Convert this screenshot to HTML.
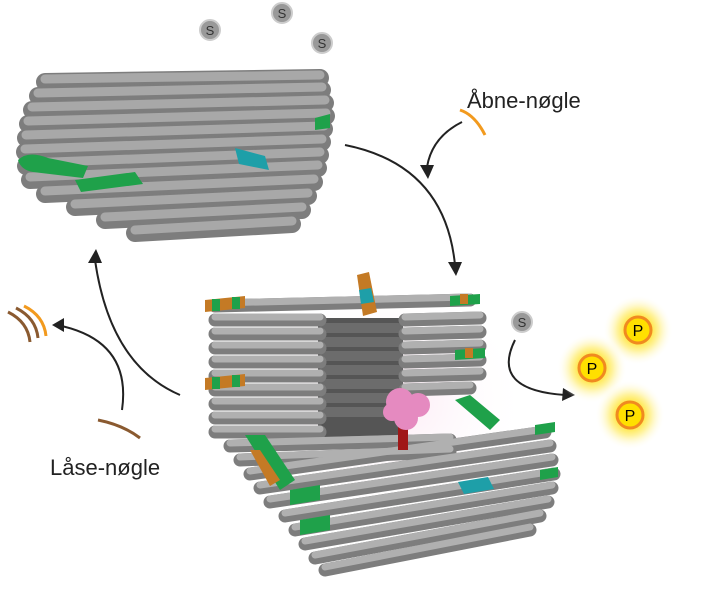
<!DOCTYPE html><html><head><style>body{margin:0;background:#fff}svg{display:block}text{font-family:"Liberation Sans",sans-serif}</style></head><body>
<svg width="720" height="600" viewBox="0 0 720 600" xmlns="http://www.w3.org/2000/svg">
<defs>
<radialGradient id="g"><stop offset="0.35" stop-color="#ffe640"/><stop offset="0.6" stop-color="#fff3a0"/><stop offset="1" stop-color="#fff" stop-opacity="0"/></radialGradient>
<radialGradient id="pk"><stop offset="0" stop-color="#f9d2e8"/><stop offset="1" stop-color="#fff" stop-opacity="0"/></radialGradient>
</defs>
<ellipse cx="390" cy="400" rx="140" ry="120" fill="url(#pk)" opacity="0.5"/>
<!-- top bundle -->
<g stroke-linecap="round">
<g stroke="#7d7d7d" stroke-width="18">
<line x1="45" y1="82" x2="320" y2="78"/><line x1="38" y1="96" x2="322" y2="90"/><line x1="32" y1="110" x2="325" y2="103"/><line x1="28" y1="124" x2="326" y2="116"/><line x1="26" y1="138" x2="324" y2="129"/><line x1="25" y1="152" x2="322" y2="142"/><line x1="26" y1="166" x2="320" y2="155"/><line x1="30" y1="180" x2="318" y2="168"/><line x1="45" y1="194" x2="314" y2="182"/><line x1="75" y1="207" x2="308" y2="196"/><line x1="105" y1="220" x2="302" y2="210"/><line x1="135" y1="233" x2="292" y2="224"/>
</g>
<g stroke="#a8a8a8" stroke-width="9">
<line x1="45" y1="79" x2="320" y2="75"/><line x1="38" y1="93" x2="322" y2="87"/><line x1="32" y1="107" x2="325" y2="100"/><line x1="28" y1="121" x2="326" y2="113"/><line x1="26" y1="135" x2="324" y2="126"/><line x1="25" y1="149" x2="322" y2="139"/><line x1="26" y1="163" x2="320" y2="152"/><line x1="30" y1="177" x2="318" y2="165"/><line x1="45" y1="191" x2="314" y2="179"/><line x1="75" y1="204" x2="308" y2="193"/><line x1="105" y1="217" x2="302" y2="207"/><line x1="135" y1="230" x2="292" y2="221"/>
</g>
</g>
<path d="M18 160 q10 -10 30 -2 l40 8 l-5 12 l-50 -6 q-12 -2 -15 -12z" fill="#1fa14a"/>
<path d="M75 180 l60 -8 l8 12 l-62 8z" fill="#1fa14a"/>
<path d="M315 118 l15 -4 l0 14 l-15 2z" fill="#1fa14a"/>
<path d="M235 148 l30 8 l4 14 l-30 -6z" fill="#1e9fa8"/>
<!-- S circles -->
<g font-size="13" text-anchor="middle">
<circle cx="210" cy="30" r="10" fill="#999" stroke="#ccc" stroke-width="2"/><text x="210" y="35" fill="#333">S</text>
<circle cx="282" cy="13" r="10" fill="#999" stroke="#ccc" stroke-width="2"/><text x="282" y="18" fill="#333">S</text>
<circle cx="322" cy="43" r="10" fill="#999" stroke="#ccc" stroke-width="2"/><text x="322" y="48" fill="#333">S</text>
<circle cx="522" cy="322" r="10" fill="#999" stroke="#ccc" stroke-width="2"/><text x="522" y="327" fill="#333">S</text>
</g>
<!-- labels -->
<text x="467" y="108" font-size="22" fill="#222">Åbne-nøgle</text>
<text x="50" y="475" font-size="22" fill="#222">Låse-nøgle</text>
<path d="M460 110 q15 5 25 25" stroke="#f29a1e" stroke-width="3" fill="none"/>
<path d="M98 420 q25 5 42 18" stroke="#8a5a30" stroke-width="3" fill="none"/>
<path d="M8 312 q20 10 22 30 M16 308 q20 10 22 30" stroke="#8a5a30" stroke-width="3" fill="none"/>
<path d="M24 306 q20 10 22 30" stroke="#f29a1e" stroke-width="3" fill="none"/>
<!-- arrows -->
<g stroke="#222" stroke-width="2" fill="none">
<path d="M462 122 q-30 15 -35 45"/><path d="M345 145 q100 20 110 120"/>
<path d="M180 395 q-70 -30 -85 -135"/><path d="M122 410 q10 -70 -65 -85"/>
<path d="M515 340 q-25 50 50 55"/>
</g>
<g fill="#222">
<path d="M420 165 l14 0 l-6 14z"/><path d="M448 262 l14 0 l-6 14z"/>
<path d="M88 263 l14 0 l-6 -14z"/><path d="M52 325 l12 -7 l0 14z"/><path d="M563 388 l12 7 l-13 6z"/>
</g>
<!-- P circles -->
<g font-size="16" text-anchor="middle">
<circle cx="638" cy="330" r="35" fill="url(#g)"/><circle cx="592" cy="368" r="35" fill="url(#g)"/><circle cx="630" cy="415" r="35" fill="url(#g)"/>
<circle cx="638" cy="330" r="13" fill="#ffe000" stroke="#f08a20" stroke-width="3"/><text x="638" y="336">P</text>
<circle cx="592" cy="368" r="13" fill="#ffe000" stroke="#f08a20" stroke-width="3"/><text x="592" y="374">P</text>
<circle cx="630" cy="415" r="13" fill="#ffe000" stroke="#f08a20" stroke-width="3"/><text x="630" y="421">P</text>
</g>
<!-- bottom open box: back wall -->
<rect x="318" y="318" width="85" height="128" fill="#555"/>
<g stroke="#6c6c6c" stroke-width="10" stroke-linecap="round">
<line x1="325" y1="328" x2="398" y2="328"/><line x1="325" y1="342" x2="398" y2="342"/><line x1="325" y1="356" x2="398" y2="356"/><line x1="325" y1="370" x2="398" y2="370"/><line x1="325" y1="384" x2="398" y2="384"/><line x1="325" y1="398" x2="398" y2="398"/><line x1="325" y1="412" x2="398" y2="412"/>
</g>
<g stroke-linecap="round">
<g stroke="#7d7d7d" stroke-width="13">
<line x1="215" y1="306" x2="470" y2="300"/>
<line x1="215" y1="320" x2="320" y2="320"/><line x1="215" y1="334" x2="320" y2="334"/><line x1="215" y1="348" x2="320" y2="348"/><line x1="215" y1="362" x2="320" y2="362"/><line x1="215" y1="376" x2="320" y2="376"/><line x1="215" y1="390" x2="320" y2="390"/><line x1="215" y1="404" x2="320" y2="404"/><line x1="215" y1="418" x2="320" y2="418"/><line x1="215" y1="432" x2="320" y2="432"/>
<line x1="405" y1="320" x2="480" y2="318"/><line x1="405" y1="334" x2="480" y2="332"/><line x1="405" y1="348" x2="480" y2="346"/><line x1="405" y1="362" x2="480" y2="360"/><line x1="405" y1="376" x2="480" y2="374"/><line x1="405" y1="390" x2="470" y2="388"/>
<line x1="230" y1="446" x2="450" y2="440"/><line x1="240" y1="460" x2="450" y2="452"/>
<line x1="250" y1="474" x2="545" y2="432"/><line x1="260" y1="488" x2="550" y2="446"/><line x1="270" y1="502" x2="552" y2="460"/><line x1="285" y1="516" x2="554" y2="474"/><line x1="295" y1="530" x2="552" y2="488"/><line x1="305" y1="544" x2="548" y2="502"/><line x1="315" y1="558" x2="540" y2="516"/><line x1="325" y1="570" x2="530" y2="530"/>
</g>
<g stroke="#b0b0b0" stroke-width="7">
<line x1="215" y1="303" x2="470" y2="297"/>
<line x1="215" y1="317" x2="320" y2="317"/><line x1="215" y1="331" x2="320" y2="331"/><line x1="215" y1="345" x2="320" y2="345"/><line x1="215" y1="359" x2="320" y2="359"/><line x1="215" y1="373" x2="320" y2="373"/><line x1="215" y1="387" x2="320" y2="387"/><line x1="215" y1="401" x2="320" y2="401"/><line x1="215" y1="415" x2="320" y2="415"/><line x1="215" y1="429" x2="320" y2="429"/>
<line x1="405" y1="317" x2="480" y2="315"/><line x1="405" y1="331" x2="480" y2="329"/><line x1="405" y1="345" x2="480" y2="343"/><line x1="405" y1="359" x2="480" y2="357"/><line x1="405" y1="373" x2="480" y2="371"/><line x1="405" y1="387" x2="470" y2="385"/>
<line x1="230" y1="443" x2="450" y2="437"/><line x1="240" y1="457" x2="450" y2="449"/>
<line x1="250" y1="471" x2="545" y2="429"/><line x1="260" y1="485" x2="550" y2="443"/><line x1="270" y1="499" x2="552" y2="457"/><line x1="285" y1="513" x2="554" y2="471"/><line x1="295" y1="527" x2="552" y2="485"/><line x1="305" y1="541" x2="548" y2="499"/><line x1="315" y1="555" x2="540" y2="513"/><line x1="325" y1="567" x2="530" y2="527"/>
</g>
</g>
<!-- ends: staples -->
<g>
<path d="M205 300 l40 -4 l0 12 l-40 4z" fill="#c47a25"/><path d="M212 299 l8 0 l0 12 l-8 0z M232 297 l8 0 l0 12 l-8 0z" fill="#1fa14a"/>
<path d="M205 378 l40 -4 l0 12 l-40 4z" fill="#c47a25"/><path d="M212 377 l8 0 l0 12 l-8 0z M232 375 l8 0 l0 12 l-8 0z" fill="#1fa14a"/>
<path d="M450 296 l30 -2 l0 10 l-30 2z" fill="#1fa14a"/><path d="M460 294 l8 0 l0 10 l-8 0z" fill="#c47a25"/>
<path d="M455 350 l30 -2 l0 10 l-30 2z" fill="#1fa14a"/><path d="M465 348 l8 0 l0 10 l-8 0z" fill="#c47a25"/>
<path d="M245 435 l20 0 l30 45 l-15 10z" fill="#1fa14a"/><path d="M250 450 l10 0 l20 30 l-10 6z" fill="#c47a25"/>
<path d="M455 400 l15 -5 l30 25 l-10 10z" fill="#1fa14a"/>
<path d="M290 490 l30 -5 l0 15 l-30 5z M300 520 l30 -5 l0 15 l-30 5z" fill="#1fa14a"/>
<path d="M535 425 l20 -3 l0 10 l-20 3z M540 470 l18 -3 l0 10 l-18 3z" fill="#1fa14a"/>
<path d="M357 275 l12 -3 l8 40 l-14 4z" fill="#c47a25"/><path d="M359 290 l12 -2 l3 14 l-13 2z" fill="#1e9fa8"/>
<path d="M458 482 l30 -5 l6 12 l-30 5z" fill="#1e9fa8"/>
</g>
<!-- enzyme -->
<rect x="398" y="425" width="10" height="25" fill="#a01818"/>
<g fill="#e58ac0"><circle cx="400" cy="402" r="14"/><circle cx="418" cy="405" r="12"/><circle cx="406" cy="418" r="12"/><circle cx="392" cy="412" r="9"/></g>
</svg>
</body></html>
